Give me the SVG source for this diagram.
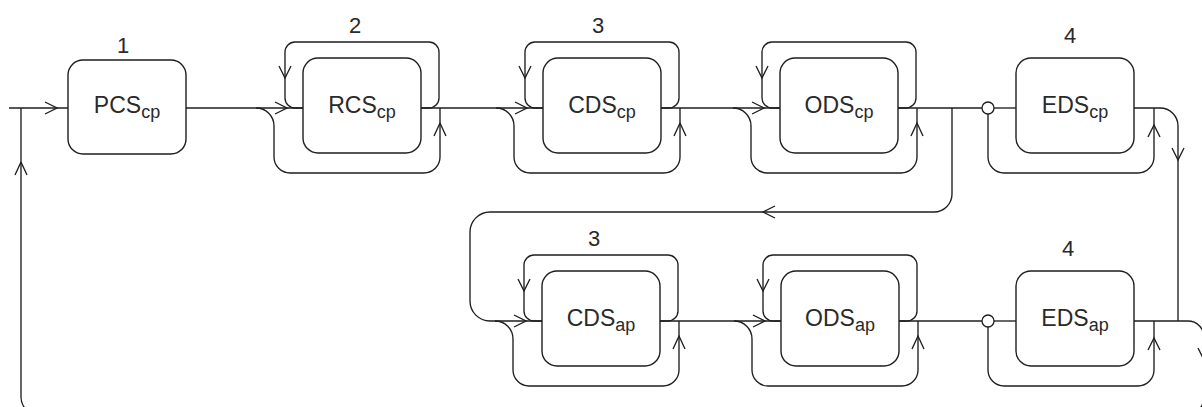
<svg xmlns="http://www.w3.org/2000/svg" width="1202" height="407" viewBox="0 0 1202 407">
<style>
.ln{fill:none;stroke:#1e1e1e;stroke-width:1.35;stroke-linejoin:round;stroke-linecap:butt}
.ar{fill:none;stroke:#1e1e1e;stroke-width:1.35;stroke-linejoin:miter}
.bx{fill:#fff;stroke:#1e1e1e;stroke-width:1.4}
.jc{fill:#fff;stroke:#1e1e1e;stroke-width:1.3}
.lb{font-family:"Liberation Sans",Arial,sans-serif;font-size:23px;fill:#2a2a2a;text-anchor:middle}
.sb{font-size:18px}
.nm{font-family:"Liberation Sans",Arial,sans-serif;font-size:22px;fill:#2a2a2a;text-anchor:middle}
</style>
<rect width="1202" height="407" fill="#fff"/>
<g id="connectors">
  <!-- top row main line -->
  <path class="ln" d="M9,108 H68"/>
  <path class="ln" d="M186,108 H303"/>
  <path class="ln" d="M421,108 H543"/>
  <path class="ln" d="M661,108 H780"/>
  <path class="ln" d="M898,108 H982"/>
  <path class="ln" d="M994,108 H1016"/>
  <!-- RCS_cp loops -->
  <path class="ln" d="M421,108 H429 A10,10 0 0 0 439,98 V52 A10,10 0 0 0 429,42 H295 A10,10 0 0 0 285,52 V98 A10,10 0 0 0 295,108 H303"/>
  <path class="ln" d="M440,108 V157 A16,16 0 0 1 424,173 H290 A16,16 0 0 1 274,157 V126 A18,18 0 0 0 256,108"/>
  <!-- CDS_cp loops -->
  <path class="ln" d="M661,108 H669 A10,10 0 0 0 679,98 V52 A10,10 0 0 0 669,42 H535 A10,10 0 0 0 525,52 V98 A10,10 0 0 0 535,108 H543"/>
  <path class="ln" d="M680,108 V157 A16,16 0 0 1 664,173 H530 A16,16 0 0 1 514,157 V126 A18,18 0 0 0 496,108"/>
  <!-- ODS_cp loops -->
  <path class="ln" d="M898,108 H906 A10,10 0 0 0 916,98 V52 A10,10 0 0 0 906,42 H772 A10,10 0 0 0 762,52 V98 A10,10 0 0 0 772,108 H780"/>
  <path class="ln" d="M917,108 V157 A16,16 0 0 1 901,173 H767 A16,16 0 0 1 751,157 V126 A18,18 0 0 0 733,108"/>
  <!-- EDS_cp loop -->
  <path class="ln" d="M988,114 V157 A16,16 0 0 0 1004,173 H1138 A16,16 0 0 0 1154,157 V108"/>
  <path class="ln" d="M1134,108 H1160 A18,18 0 0 1 1178,126 V321"/>
  <!-- return from top row to bottom row -->
  <path class="ln" d="M952,108 V194 A18,18 0 0 1 934,212 H490 A20,20 0 0 0 470,232 V301 A20,20 0 0 0 490,321 H542"/>
  <!-- bottom row main line -->
  <path class="ln" d="M660,321 H781"/>
  <path class="ln" d="M899,321 H982"/>
  <path class="ln" d="M994,321 H1016"/>
  <!-- CDS_ap loops -->
  <path class="ln" d="M660,321 H668 A10,10 0 0 0 678,311 V265 A10,10 0 0 0 668,255 H534 A10,10 0 0 0 524,265 V311 A10,10 0 0 0 534,321 H542"/>
  <path class="ln" d="M679,321 V370 A16,16 0 0 1 663,386 H529 A16,16 0 0 1 513,370 V339 A18,18 0 0 0 495,321"/>
  <!-- ODS_ap loops -->
  <path class="ln" d="M899,321 H907 A10,10 0 0 0 917,311 V265 A10,10 0 0 0 907,255 H773 A10,10 0 0 0 763,265 V311 A10,10 0 0 0 773,321 H781"/>
  <path class="ln" d="M918,321 V370 A16,16 0 0 1 902,386 H768 A16,16 0 0 1 752,370 V339 A18,18 0 0 0 734,321"/>
  <!-- EDS_ap loop -->
  <path class="ln" d="M988,327 V370 A16,16 0 0 0 1004,386 H1138 A16,16 0 0 0 1154,370 V321"/>
  <!-- global feedback -->
  <path class="ln" d="M1134,321 H1188 A16,16 0 0 1 1204,337 V397 A18,18 0 0 1 1186,415 H39 A18,18 0 0 1 21,397 V108"/>
  <!-- arrowheads -->
  <g class="ar">
    <path d="M45,102 L57,108 L45,114"/>
    <path d="M21,162 L15,175 M21,162 L27,175"/>
    <path d="M275,102 L287,108 L275,114"/>
    <path d="M279,66 L285,78 L291,66"/>
    <path d="M434,136 L440,123 L446,136"/>
    <path d="M515,102 L527,108 L515,114"/>
    <path d="M519,66 L525,78 L531,66"/>
    <path d="M674,136 L680,123 L686,136"/>
    <path d="M752,102 L764,108 L752,114"/>
    <path d="M756,66 L762,78 L768,66"/>
    <path d="M911,136 L917,123 L923,136"/>
    <path d="M1148,137 L1154,125 L1160,137"/>
    <path d="M1172,148 L1178,160 L1184,148"/>
    <path d="M775,206 L763,212 L775,218"/>
    <path d="M514,315 L526,321 L514,327"/>
    <path d="M518,279 L524,291 L530,279"/>
    <path d="M673,349 L679,336 L685,349"/>
    <path d="M753,315 L765,321 L753,327"/>
    <path d="M757,279 L763,291 L769,279"/>
    <path d="M912,349 L918,336 L924,349"/>
    <path d="M1148,350 L1154,338 L1160,350"/>
    <path d="M1198,348 L1204,360 L1210,348"/>
  </g>
</g>
<g id="n-pcs-cp">
  <rect class="bx" x="68" y="60" width="118" height="94" rx="15"/>
  <text class="nm" x="123" y="53">1</text>
  <text class="lb" x="127" y="113">PCS<tspan class="sb" dy="5">cp</tspan></text>
</g>
<g id="n-rcs-cp">
  <rect class="bx" x="303" y="58" width="118" height="95" rx="15"/>
  <text class="nm" x="355" y="33">2</text>
  <text class="lb" x="362" y="113">RCS<tspan class="sb" dy="5">cp</tspan></text>
</g>
<g id="n-cds-cp">
  <rect class="bx" x="543" y="58" width="118" height="95" rx="15"/>
  <text class="nm" x="598" y="33">3</text>
  <text class="lb" x="602" y="113">CDS<tspan class="sb" dy="5">cp</tspan></text>
</g>
<g id="n-ods-cp">
  <rect class="bx" x="780" y="58" width="118" height="95" rx="15"/>
  <text class="lb" x="839" y="113">ODS<tspan class="sb" dy="5">cp</tspan></text>
</g>
<g id="n-eds-cp">
  <circle class="jc" cx="988" cy="108" r="6"/>
  <rect class="bx" x="1016" y="58" width="118" height="95" rx="15"/>
  <text class="nm" x="1070" y="43">4</text>
  <text class="lb" x="1075" y="113">EDS<tspan class="sb" dy="5">cp</tspan></text>
</g>
<g id="n-cds-ap">
  <rect class="bx" x="542" y="271" width="118" height="95" rx="15"/>
  <text class="nm" x="594" y="246">3</text>
  <text class="lb" x="601" y="326">CDS<tspan class="sb" dy="5">ap</tspan></text>
</g>
<g id="n-ods-ap">
  <rect class="bx" x="781" y="271" width="118" height="95" rx="15"/>
  <text class="lb" x="840" y="326">ODS<tspan class="sb" dy="5">ap</tspan></text>
</g>
<g id="n-eds-ap">
  <circle class="jc" cx="988" cy="321" r="6"/>
  <rect class="bx" x="1016" y="271" width="118" height="95" rx="15"/>
  <text class="nm" x="1068" y="256">4</text>
  <text class="lb" x="1075" y="326">EDS<tspan class="sb" dy="5">ap</tspan></text>
</g>
</svg>
